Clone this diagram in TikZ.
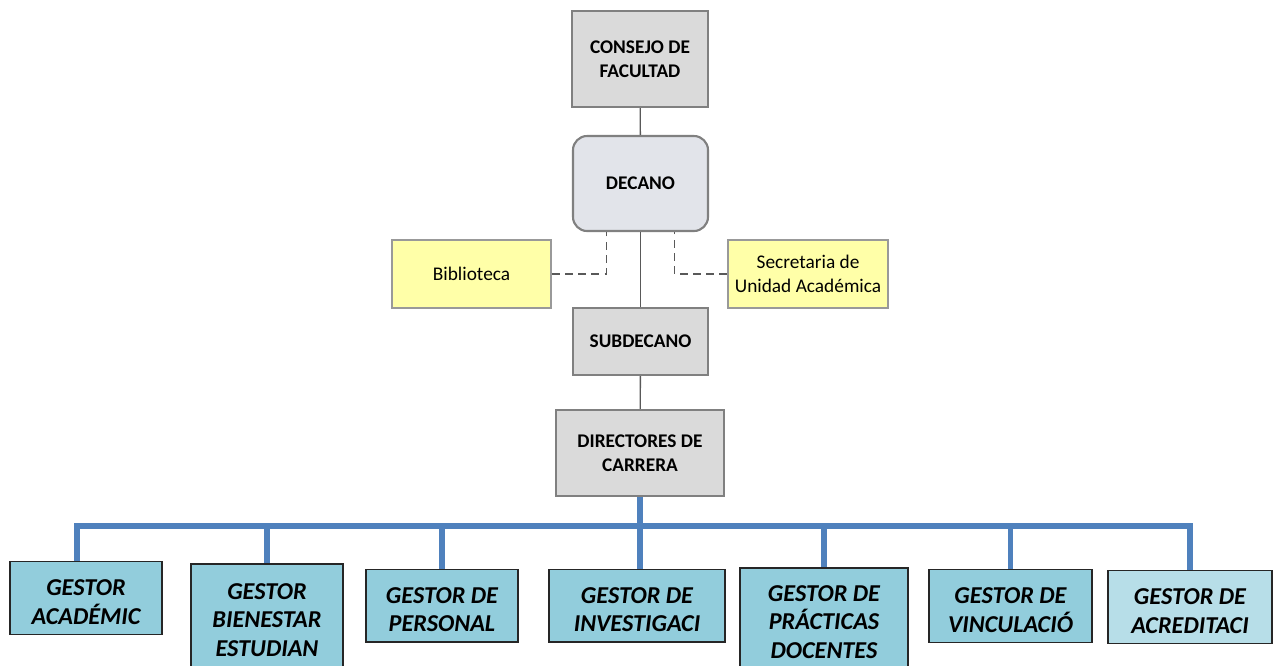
\documentclass[tikz,border=0pt]{standalone}
\usepackage{fontspec}
\setmainfont{Carlito}
\usetikzlibrary{positioning}
\definecolor{BoxGray}{RGB}{218,218,218}
\definecolor{DeanGray}{RGB}{226,228,234}
\definecolor{EdgeGray}{RGB}{128,128,128}
\definecolor{NoteYellow}{RGB}{255,255,168}
\definecolor{GestorBlue}{RGB}{146,205,220}
\definecolor{GestorLight}{RGB}{183,222,232}
\definecolor{BusBlue}{RGB}{79,129,189}
\tikzset{
  link/.style={draw=black!65,line width=0.8pt},
  dashlink/.style={draw=black!65,line width=0.9pt,dash pattern=on 4.5pt off 3pt},
  bus/.style={draw=BusBlue,line width=3pt},
  headbox/.style={draw=EdgeGray,fill=BoxGray,line width=1.2pt,inner sep=2pt,
    align=center,font=\fontsize{11}{13.6}\selectfont\bfseries},
  deanbox/.style={headbox,fill=DeanGray,rounded corners=8pt},
  notebox/.style={draw=EdgeGray!80,fill=NoteYellow,line width=1pt,inner sep=2pt,
    align=center,font=\fontsize{11}{13.6}\selectfont},
  gestorbox/.style={draw=black!85,fill=GestorBlue,line width=0.8pt,inner sep=2pt,
    align=center,font=\fontsize{13.8}{16.2}\selectfont\bfseries\itshape},
  lightgestor/.style={gestorbox,fill=GestorLight},
  twoline/.style={text height=33.6pt,text depth=3.7pt}
}

\begin{document}
\begin{tikzpicture}
  \useasboundingbox (0,0) rectangle (25.54,-13.30);

  \node[headbox,minimum width=2.72cm,minimum height=1.92cm] (consejo) at (12.80,-1.18) {CONSEJO DE\\FACULTAD};
  \node[deanbox,minimum width=2.70cm,minimum height=1.90cm] (decano) at (12.81,-3.67) {DECANO};
  \node[notebox,minimum width=3.18cm,minimum height=1.36cm] (biblio) at (9.43,-5.48) {Biblioteca};
  \node[notebox,minimum width=3.20cm,minimum height=1.36cm] (secret) at (16.16,-5.48) {Secretaria de\\Unidad Académica};
  \node[headbox,minimum width=2.70cm,minimum height=1.34cm] (subdec) at (12.81,-6.83) {SUBDECANO};
  \node[headbox,minimum width=3.36cm,minimum height=1.72cm] (director) at (12.80,-9.06) {DIRECTORES DE\\CARRERA};

  \draw[link] (consejo) -- (decano);
  \draw[link] (decano) -- (subdec);
  \draw[link] (subdec) -- (director);
  \draw[dashlink] (biblio.east) -| ([xshift=-0.68cm]decano.south);
  \draw[dashlink] (secret.west) -| ([xshift=0.68cm]decano.south);

  % gestores
  \node[gestorbox,twoline,minimum width=3.04cm] (gacad) at (1.72,-11.96) {GESTOR\\ACADÉMIC};
  \node[gestorbox,minimum width=3.04cm,minimum height=2.24cm] (gbien) at (5.34,-12.40) {GESTOR\\BIENESTAR\\ESTUDIAN};
  \node[gestorbox,twoline,minimum width=3.04cm] (gpers) at (8.84,-12.11) {GESTOR DE\\PERSONAL};
  \node[gestorbox,twoline,minimum width=3.52cm] (ginve) at (12.74,-12.11) {GESTOR DE\\INVESTIGACI};
  \node[gestorbox,minimum width=3.36cm,minimum height=2.16cm] (gprac) at (16.48,-12.44) {GESTOR DE\\PRÁCTICAS\\DOCENTES};
  \node[gestorbox,twoline,minimum width=3.26cm] (gvinc) at (20.21,-12.12) {GESTOR DE\\VINCULACIÓ};
  \node[lightgestor,twoline,minimum width=3.28cm] (gacre) at (23.80,-12.14) {GESTOR DE\\ACREDITACI};

  \coordinate (busline) at (0,-10.52);
  \draw[bus] (director.south) -- (director.south |- ginve.north);
  \draw[bus] (director.south) -- (director.south |- busline) -| ([xshift=-0.18cm]gacad.north);
  \foreach \g in {gbien,gpers,gprac,gvinc,gacre}
    \draw[bus] (director.south) -- (director.south |- busline) -| (\g.north);
\end{tikzpicture}
\end{document}
